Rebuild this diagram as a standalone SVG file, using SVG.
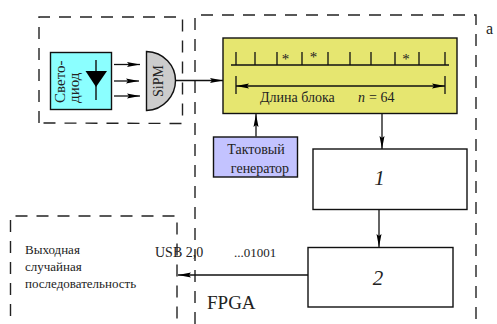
<svg xmlns="http://www.w3.org/2000/svg" width="497" height="324" viewBox="0 0 497 324">
<defs>
<marker id="a" markerUnits="userSpaceOnUse" markerWidth="14" markerHeight="8" refX="13" refY="4" orient="auto-start-reverse"><path d="M0 1.5L13 4L0 6.500L2 4Z" fill="#000"/></marker>
</defs>
<style>
.t{font-family:"Liberation Serif","Times New Roman",serif;fill:#222;font-size:13px}
.b{stroke:#111;stroke-width:1.400;fill:none}
.d{stroke:#222;stroke-width:1.400;fill:none;stroke-dasharray:12 9}
.c{stroke:#111;stroke-width:1.300;fill:none}
.i{font-style:italic}
</style>
<rect width="497" height="324" fill="#fff"/>
<g id="frames">
<path class="d" d="M39 123V17H182.500V123.500Z"/>
<path class="d" d="M195 324V15H476V324"/>
<path class="d" d="M10.500 316V216H177V324"/>
</g>
<g id="connectors">
<path class="c" d="M114 64.500H140" marker-end="url(#a)"/>
<path class="c" d="M114 81H139" marker-end="url(#a)"/>
<path class="c" d="M114 96H140" marker-end="url(#a)"/>
<path class="c" d="M176 80.500H223" marker-end="url(#a)"/>
<path class="c" d="M256 136.500V114" marker-end="url(#a)"/>
<path class="c" d="M382 114V149" marker-end="url(#a)"/>
<path class="c" d="M379 210V247" marker-end="url(#a)"/>
<path class="c" d="M308 275H178" marker-end="url(#a)"/>
</g>
<g id="led">
<rect x="50.500" y="52.500" width="61" height="57" fill="#8bffff" stroke="#111" stroke-width="1.400"/>
<path d="M96 60V100" stroke="#111" stroke-width="1.400"/>
<path d="M85.500 71H107L96 87Z" fill="#000"/>
<text class="t" transform="translate(65 103) rotate(-90)" font-size="15" style="font-size:15px">Свето-</text>
<text class="t" transform="translate(79 103) rotate(-90)" style="font-size:15px">диод</text>
</g>
<g id="sipm">
<path d="M146.500 51.500C164 52 175.500 66 175.500 80.500C175.500 95 164 110 146.500 110.500Z" fill="#cccccc" stroke="#111" stroke-width="1.400"/>
<text class="t" transform="translate(163 97) rotate(-90)" style="font-size:14px">SiPM</text>
</g>
<g id="block">
<rect x="223" y="38" width="234" height="75.500" fill="#e6e670" stroke="#111" stroke-width="1.400"/>
<path class="c" d="M231 65H449M236 52V65M255 52V65M277 52V65M302 52V65M328 52V65M350 52V65M371 52V65M395 52V65M419 52V65M445 52V65M236 76V94M445 76V94"/>
<path class="c" d="M236 86H445" marker-start="url(#a)" marker-end="url(#a)"/>
<text class="t" x="285.500" y="64" text-anchor="middle" style="font-size:15px">*</text>
<text class="t" x="313.500" y="62" text-anchor="middle" style="font-size:15px">*</text>
<text class="t" x="406" y="64" text-anchor="middle" style="font-size:15px">*</text>
<text class="t" x="260" y="102" style="font-size:14px">Длина блока</text>
<text class="t i" x="358" y="102" style="font-size:14px">n</text>
<text class="t" x="369" y="102" style="font-size:14px">= 64</text>
</g>
<g id="clock">
<rect x="213.500" y="137" width="84" height="40" fill="#c3c3ff" stroke="#111" stroke-width="1.400"/>
<text class="t" x="256" y="153.500" text-anchor="middle" style="font-size:14px">Тактовый</text>
<text class="t" x="260" y="173" text-anchor="middle" style="font-size:14px">генератор</text>
</g>
<g id="node1">
<rect x="313" y="149" width="154" height="60.500" fill="#fff" stroke="#111" stroke-width="1.400"/>
<text class="t i" x="379.500" y="185" text-anchor="middle" style="font-size:21px">1</text>
</g>
<g id="node2">
<rect x="308" y="247.500" width="145" height="59.500" fill="#fff" stroke="#111" stroke-width="1.400"/>
<text class="t i" x="378" y="285" text-anchor="middle" style="font-size:21px">2</text>
</g>
<g id="labels">
<text class="t" x="25" y="254">Выходная</text>
<text class="t" x="25" y="271">случайная</text>
<text class="t" x="25" y="288">последовательность</text>
<text class="t" x="155" y="257" style="font-size:14px">USB 2,0</text>
<text class="t" x="234" y="257">...01001</text>
<text class="t" x="207" y="309" style="font-size:19px">FPGA</text>
<text class="t" x="486" y="34" style="font-size:16px">а</text>
</g>
</svg>
